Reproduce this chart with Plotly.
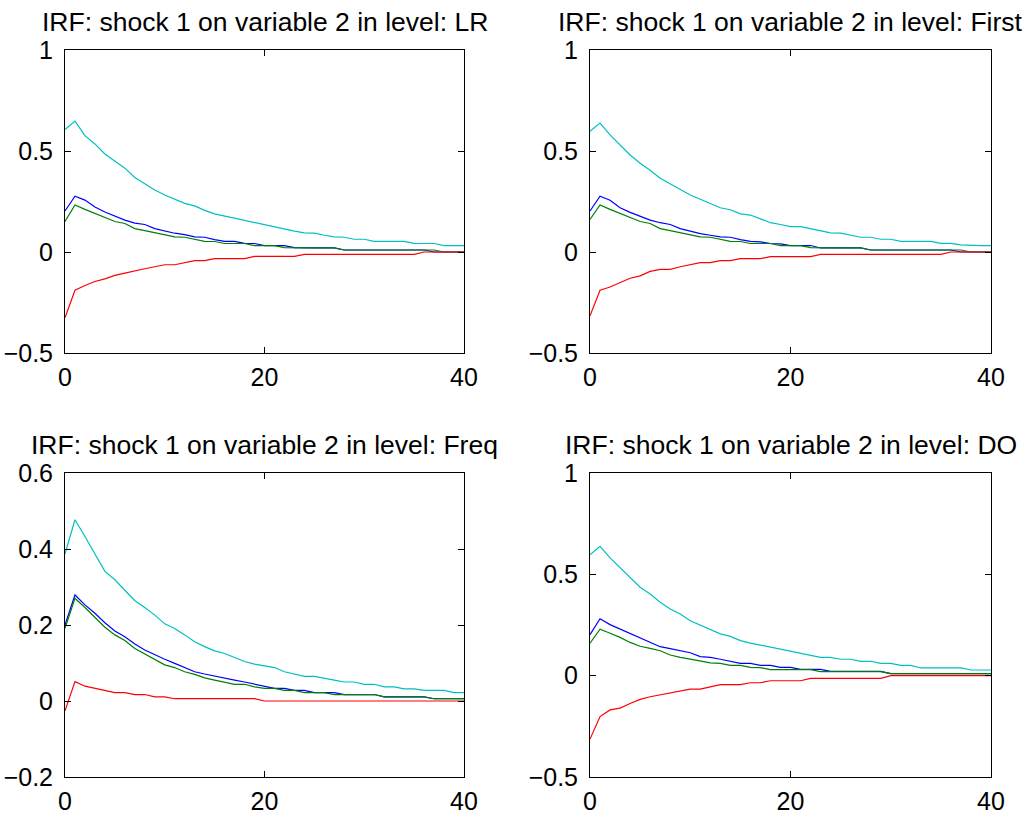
import plotly.graph_objects as go

# ---------------- data ----------------
horizon = list(range(41))

titles = [
    "IRF: shock 1 on variable 2 in level: LR",
    "IRF: shock 1 on variable 2 in level: First",
    "IRF: shock 1 on variable 2 in level: Freq",
    "IRF: shock 1 on variable 2 in level: DO",
]

# LR
lr_blue = [0.203, 0.276, 0.257, 0.223, 0.198, 0.176, 0.158, 0.143, 0.136, 0.116, 0.103, 0.093, 0.086, 0.075,
           0.073, 0.061, 0.053, 0.053, 0.043, 0.042, 0.032, 0.032, 0.032, 0.022,
           0.020, 0.020, 0.020, 0.020,
           0.010, 0.010, 0.010, 0.010, 0.010, 0.010, 0.010, 0.010, 0.010,
           0.0, 0.0, 0.0, 0.0]
lr_green = [0.151, 0.233, 0.211, 0.191, 0.168, 0.151, 0.141, 0.116, 0.106, 0.096, 0.086, 0.075, 0.073, 0.063,
            0.053, 0.052, 0.042, 0.042, 0.042, 0.032, 0.032, 0.032, 0.022,
            0.020, 0.020, 0.020, 0.020, 0.020,
            0.010, 0.010, 0.010, 0.010, 0.010, 0.010, 0.010, 0.010, 0.010, 0.010,
            0.0, 0.0, 0.0]
lr_red = [-0.326, -0.189, -0.166, -0.146, -0.133, -0.116, -0.105, -0.093, -0.083, -0.073, -0.063, -0.063,
          -0.053, -0.043, -0.043,
          -0.033, -0.033, -0.033, -0.033,
          -0.022, -0.022, -0.022, -0.022, -0.022,
          -0.012, -0.012, -0.012, -0.012, -0.012, -0.012, -0.012, -0.012, -0.012, -0.012, -0.012, -0.012,
          0.0, 0.0, 0.0, 0.0, 0.0]
lr_cyan = [0.606, 0.648, 0.576, 0.535, 0.485, 0.449, 0.415, 0.369, 0.339, 0.307, 0.282, 0.261, 0.241, 0.228,
           0.206, 0.189, 0.178, 0.168, 0.156, 0.145, 0.135, 0.125, 0.113, 0.103, 0.095, 0.093, 0.083, 0.075,
           0.073, 0.063, 0.063, 0.053, 0.053, 0.053, 0.053, 0.043, 0.043, 0.042, 0.032, 0.032, 0.032]

# First
first_blue = [0.203, 0.276, 0.256, 0.219, 0.196, 0.176, 0.158, 0.145, 0.136, 0.116, 0.103, 0.091, 0.083, 0.075,
              0.073, 0.061, 0.053, 0.050, 0.042, 0.040, 0.032, 0.032, 0.032,
              0.020, 0.020, 0.020, 0.020, 0.020,
              0.010, 0.010, 0.010, 0.010, 0.010, 0.010, 0.010, 0.010, 0.010,
              0.0, 0.0, 0.0, 0.0]
first_green = [0.161, 0.233, 0.211, 0.191, 0.168, 0.151, 0.141, 0.116, 0.106, 0.096, 0.086, 0.075, 0.073, 0.063,
               0.053, 0.052, 0.042, 0.042, 0.042, 0.032, 0.032, 0.032, 0.022,
               0.020, 0.020, 0.020, 0.020, 0.020,
               0.010, 0.010, 0.010, 0.010, 0.010, 0.010, 0.010, 0.010, 0.010, 0.010,
               0.0, 0.0, 0.0]
first_red = [-0.316, -0.189, -0.173, -0.153, -0.130, -0.118, -0.096, -0.086, -0.086, -0.073, -0.063, -0.053,
             -0.053, -0.043, -0.043, -0.033, -0.033, -0.033,
             -0.023, -0.023, -0.023, -0.023, -0.023,
             -0.012, -0.012, -0.012, -0.012, -0.012, -0.012, -0.012, -0.012, -0.012, -0.012, -0.012, -0.012, -0.012,
             0.0, 0.0, 0.0, 0.0, 0.0]
first_cyan = [0.598, 0.638, 0.580, 0.532, 0.480, 0.439, 0.405, 0.365, 0.336, 0.307, 0.282, 0.261, 0.241, 0.219,
              0.209, 0.189, 0.183, 0.164, 0.145, 0.136, 0.126, 0.126, 0.115, 0.105, 0.095, 0.093, 0.083, 0.073,
              0.073, 0.063, 0.063, 0.053, 0.053, 0.053, 0.053, 0.043, 0.043, 0.035, 0.032, 0.032, 0.032]

# Freq
freq_blue = [0.200, 0.279, 0.253, 0.231, 0.206, 0.184, 0.169, 0.150, 0.134, 0.121, 0.110, 0.099, 0.088, 0.077,
             0.071, 0.065, 0.060, 0.055, 0.050, 0.044, 0.039, 0.033, 0.033, 0.028, 0.028, 0.022, 0.022, 0.022,
             0.017, 0.017, 0.017, 0.017,
             0.011, 0.011, 0.011, 0.011, 0.011,
             0.006, 0.006, 0.006, 0.006]
freq_green = [0.191, 0.270, 0.246, 0.220, 0.194, 0.174, 0.159, 0.138, 0.124, 0.108, 0.095, 0.088, 0.077, 0.070,
              0.061, 0.055, 0.050, 0.044, 0.044, 0.037, 0.033, 0.033, 0.028, 0.028, 0.022, 0.022, 0.022,
              0.017, 0.017, 0.017, 0.017, 0.017,
              0.011, 0.011, 0.011, 0.011, 0.011,
              0.006, 0.006, 0.006, 0.006]
freq_red = [-0.026, 0.051, 0.039, 0.033, 0.027, 0.022, 0.022, 0.017, 0.017, 0.011, 0.011,
            0.006, 0.006, 0.006, 0.006, 0.006, 0.006, 0.006, 0.006, 0.006,
            0.0, 0.0, 0.0, 0.0, 0.0, 0.0, 0.0, 0.0, 0.0, 0.0, 0.0, 0.0, 0.0, 0.0, 0.0, 0.0, 0.0, 0.0, 0.0, 0.0, 0.0]
freq_cyan = [0.387, 0.477, 0.433, 0.386, 0.341, 0.319, 0.291, 0.264, 0.246, 0.226, 0.203, 0.191, 0.174, 0.156,
             0.143, 0.132, 0.125, 0.115, 0.104, 0.097, 0.093, 0.088, 0.077, 0.071, 0.065, 0.065, 0.059, 0.055,
             0.050, 0.050, 0.044, 0.044, 0.037, 0.037, 0.032, 0.032, 0.028, 0.028, 0.028, 0.022, 0.022]

# DO
do_blue = [0.202, 0.281, 0.252, 0.230, 0.206, 0.184, 0.164, 0.143, 0.133, 0.123, 0.113, 0.094, 0.090, 0.081,
           0.072, 0.061, 0.061, 0.051, 0.051, 0.041, 0.041, 0.031, 0.031, 0.031,
           0.021, 0.021, 0.021, 0.021, 0.021, 0.021,
           0.010, 0.010, 0.010, 0.010, 0.010, 0.010, 0.010, 0.010, 0.010, 0.010, 0.010]
do_green = [0.160, 0.229, 0.209, 0.189, 0.164, 0.145, 0.135, 0.123, 0.102, 0.090, 0.082, 0.074, 0.063, 0.061,
            0.051, 0.051, 0.041, 0.040, 0.030, 0.030, 0.030, 0.030, 0.030,
            0.020, 0.020, 0.020, 0.020, 0.020, 0.020, 0.020,
            0.010, 0.010, 0.010, 0.010, 0.010, 0.010, 0.010, 0.010, 0.010, 0.010, 0.010]
do_red = [-0.313, -0.202, -0.169, -0.160, -0.137, -0.117, -0.104, -0.094, -0.084, -0.074, -0.066, -0.066,
          -0.054, -0.044, -0.044, -0.044, -0.035, -0.035, -0.025, -0.025, -0.025, -0.025,
          -0.013, -0.013, -0.013, -0.013, -0.013, -0.013, -0.013, -0.013,
          0.0, 0.0, 0.0, 0.0, 0.0, 0.0, 0.0, 0.0, 0.0, 0.0, 0.0]
do_cyan = [0.597, 0.638, 0.581, 0.531, 0.485, 0.436, 0.403, 0.362, 0.329, 0.304, 0.271, 0.250, 0.230, 0.206,
           0.194, 0.173, 0.161, 0.151, 0.140, 0.130, 0.120, 0.110, 0.100, 0.090, 0.090, 0.081, 0.081, 0.071,
           0.071, 0.061, 0.061, 0.051, 0.051, 0.038, 0.038, 0.038, 0.038, 0.038, 0.028, 0.028, 0.028]

panels = [
    [lr_blue, lr_green, lr_red, lr_cyan],
    [first_blue, first_green, first_red, first_cyan],
    [freq_blue, freq_green, freq_red, freq_cyan],
    [do_blue, do_green, do_red, do_cyan],
]

x_tickvals = [0, 20, 40]
x_ticktext = ["0", "20", "40"]
y_ticks_a = [-0.5, 0, 0.5, 1]
y_text_a = ["\u22120.5", "0", "0.5", "1"]
y_ticks_b = [-0.2, 0, 0.2, 0.4, 0.6]
y_text_b = ["\u22120.2", "0", "0.2", "0.4", "0.6"]

# ---------------- styling / layout ----------------
W, H = 1033, 817
line_colors = ["#0000ff", "#008000", "#ff0000", "#00bfbf"]
FONT = "Liberation Sans, Arial, Helvetica, sans-serif"

# axes boxes in pixels: (left, right, top, bottom)
boxes = [(65, 464, 50, 353), (590, 991, 50, 353), (65, 464, 473, 777), (590, 991, 473, 777)]
y_ranges = [[-0.5, 1], [-0.5, 1], [-0.2, 0.6], [-0.5, 1]]
y_ticks = [(y_ticks_a, y_text_a), (y_ticks_a, y_text_a), (y_ticks_b, y_text_b), (y_ticks_a, y_text_a)]

fig = go.Figure()
annotations = []
for i, series in enumerate(panels):
    k = "" if i == 0 else str(i + 1)
    for s, c in zip(series, line_colors):
        fig.add_trace(go.Scatter(x=horizon, y=s, mode="lines", line=dict(color=c, width=1.2),
                                 xaxis="x" + k, yaxis="y" + k, showlegend=False, hoverinfo="skip"))
    l, r, t, b = boxes[i]
    xd = [l / W, r / W]
    yd = [1 - b / H, 1 - t / H]
    common = dict(showline=True, linecolor="black", linewidth=1, mirror="ticks", ticks="inside",
                  ticklen=6, tickwidth=1, tickcolor="black", showgrid=False, zeroline=False,
                  automargin=False,
                  tickfont=dict(family=FONT, size=25, color="black"), fixedrange=True)
    fig.layout["xaxis" + k] = dict(domain=xd, range=[0, 40], tickvals=x_tickvals, ticktext=x_ticktext,
                                   anchor="y" + k, ticklabelstandoff=2, **common)
    tv, tt = y_ticks[i]
    fig.layout["yaxis" + k] = dict(domain=yd, range=y_ranges[i], tickvals=tv, ticktext=tt,
                                   anchor="x" + k, ticklabelstandoff=6, **common)
    annotations.append(dict(text=titles[i], x=(xd[0] + xd[1]) / 2, y=yd[1], xref="paper", yref="paper",
                            xanchor="center", yanchor="bottom", yshift=11, showarrow=False,
                            font=dict(family=FONT, size=26.5, color="black")))

fig.update_layout(width=W, height=H, autosize=False, margin=dict(l=0, r=0, t=0, b=0),
                  paper_bgcolor="white", plot_bgcolor="white", annotations=annotations)

fig.write_html("out.html", config={"displayModeBar": False},
               post_script="document.body.style.margin='0';document.body.style.overflow='hidden';")
